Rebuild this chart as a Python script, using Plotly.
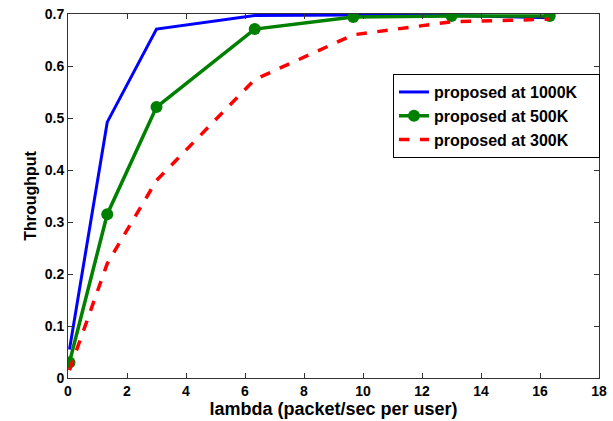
import plotly.graph_objects as go

lam = [0.05, 1.33, 3.0, 6.33, 9.67, 13.0, 16.33]
blue = [0.055, 0.492, 0.671, 0.697, 0.698, 0.697, 0.693]
green = [0.03, 0.315, 0.521, 0.671, 0.694, 0.696, 0.696]
red = [0.015, 0.22, 0.38, 0.574, 0.66, 0.685, 0.69]

names = ["proposed at 1000K", "proposed at 500K", "proposed at 300K"]
xticks = [0, 2, 4, 6, 8, 10, 12, 14, 16, 18]
yticks = [0, 0.1, 0.2, 0.3, 0.4, 0.5, 0.6, 0.7]
pad = "\u2003"  # invisible padding to widen legend box

fig = go.Figure()
fig.add_trace(go.Scatter(x=lam, y=blue, mode="lines", name=names[0] + pad,
                         line=dict(color="#0000ff", width=3)))
fig.add_trace(go.Scatter(x=lam, y=green, mode="lines+markers", name=names[1],
                         line=dict(color="#008000", width=3.5),
                         marker=dict(color="#008000", size=12)))
fig.add_trace(go.Scatter(x=lam, y=red, mode="lines", name=names[2],
                         line=dict(color="#ff0000", width=3.5, dash="dash")))

font = "Liberation Sans, Arial, sans-serif"
axis_common = dict(showgrid=False, zeroline=False, showline=True, linecolor="#333",
                   linewidth=1, mirror="ticks", ticks="inside", ticklen=5,
                   tickcolor="#333", ticklabeloverflow="allow",
                   tickfont=dict(family=font, size=14, color="black", weight="bold"))
fig.update_layout(
    width=613, height=421,
    margin=dict(l=68, r=6, t=14, b=43),
    paper_bgcolor="white", plot_bgcolor="white",
    font=dict(family=font, color="black"),
    showlegend=True,
    legend=dict(x=0.612, y=0.835, xanchor="left", yanchor="top",
                bordercolor="black", borderwidth=1, bgcolor="white",
                font=dict(family=font, size=16, color="black", weight="bold"),
                tracegroupgap=0),
    xaxis=dict(range=[0, 18], tickmode="array", tickvals=xticks,
               ticktext=["%d" % v for v in xticks],
               title=dict(text="lambda (packet/sec per user)", standoff=4,
                          font=dict(family=font, size=18, weight="bold")),
               **axis_common),
    yaxis=dict(range=[0, 0.7], tickmode="array", tickvals=yticks,
               ticktext=["%g" % v for v in yticks],
               title=dict(text="Throughput", standoff=4,
                          font=dict(family=font, size=16, weight="bold")),
               **axis_common),
)
fig.write_html("out.html")
